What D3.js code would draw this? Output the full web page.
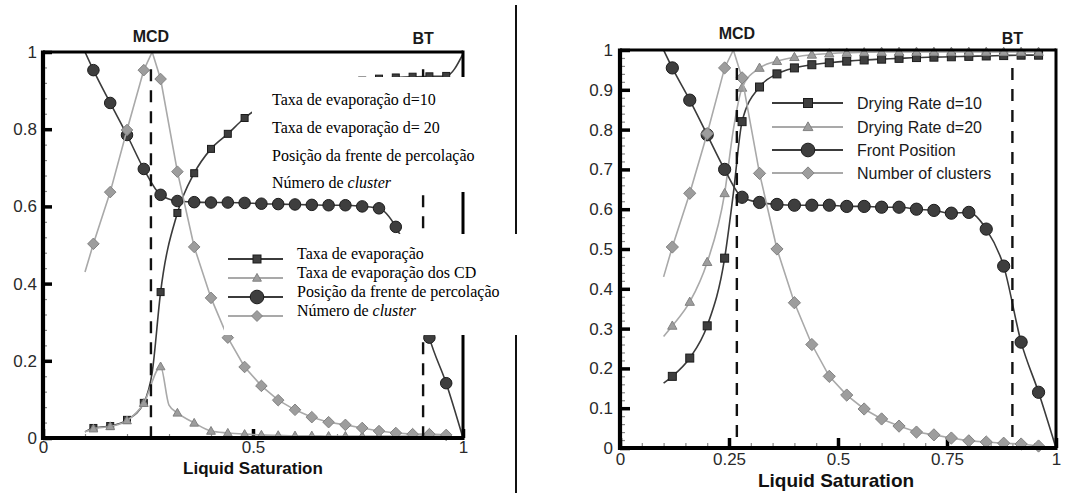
<!DOCTYPE html>
<html>
<head>
<meta charset="utf-8">
<script src="https://cdn.jsdelivr.net/npm/d3@7"></script>
<style>
  body { margin: 0; background: #fff; }
  svg { display: block; }
</style>
</head>
<body>
<script>
// ---------- data: left figure (Portuguese version) ----------
const leftRateX    = [0.10,0.12,0.16,0.20,0.24,0.26,0.28,0.32,0.36,0.40,0.44,0.48,0.52,0.56,0.60,0.64,0.68,0.72,0.76,0.80,0.84,0.88,0.92,0.96,1.00];
const leftRateY    = [0.016,0.026,0.031,0.047,0.091,0.17,0.378,0.583,0.686,0.749,0.788,0.829,0.86,0.88,0.895,0.905,0.913,0.92,0.926,0.931,0.934,0.936,0.937,0.938,0.995];
const leftCdX      = [0.10,0.12,0.16,0.20,0.24,0.28,0.30,0.32,0.36,0.40,0.44,0.48,0.52,0.56,0.60,0.64,0.68,0.72,0.76,0.80,0.84,0.88,0.92,0.96];
const leftCdY      = [0.016,0.024,0.03,0.045,0.09,0.185,0.085,0.065,0.039,0.018,0.013,0.01,0.008,0.007,0.006,0.006,0.005,0.005,0.005,0.005,0.005,0.005,0.005,0.005];
const leftFrontX   = [0.10,0.12,0.16,0.20,0.24,0.28,0.32,0.36,0.40,0.44,0.48,0.52,0.56,0.60,0.64,0.68,0.72,0.76,0.80,0.84,0.88,0.92,0.96,1.00];
const leftFrontY   = [1.0,0.953,0.868,0.785,0.697,0.63,0.614,0.611,0.61,0.61,0.609,0.607,0.606,0.605,0.604,0.603,0.603,0.60,0.595,0.547,0.45,0.26,0.142,0.0];
const leftClusterX = [0.10,0.12,0.16,0.20,0.24,0.26,0.28,0.32,0.36,0.40,0.44,0.48,0.52,0.56,0.60,0.64,0.68,0.72,0.76,0.80,0.84,0.88,0.92,0.96];
const leftClusterY = [0.43,0.503,0.637,0.798,0.953,1.0,0.93,0.69,0.495,0.363,0.26,0.184,0.135,0.098,0.073,0.054,0.041,0.034,0.026,0.018,0.013,0.01,0.01,0.008];

// ---------- data: right figure (English version) ----------
const rightD10X     = [0.10,0.12,0.16,0.20,0.24,0.26,0.28,0.32,0.36,0.40,0.44,0.48,0.52,0.56,0.60,0.64,0.68,0.72,0.76,0.80,0.84,0.88,0.92,0.96];
const rightD10Y     = [0.163,0.18,0.226,0.307,0.477,0.64,0.82,0.907,0.94,0.955,0.963,0.968,0.972,0.975,0.977,0.979,0.981,0.982,0.983,0.984,0.985,0.986,0.987,0.987];
const rightD20X     = [0.10,0.12,0.16,0.20,0.24,0.26,0.28,0.32,0.36,0.40,0.44,0.48,0.52,0.56,0.60,0.64,0.68,0.72,0.76,0.80,0.84,0.88,0.92,0.96];
const rightD20Y     = [0.28,0.307,0.367,0.467,0.64,0.80,0.905,0.955,0.972,0.982,0.988,0.991,0.993,0.994,0.995,0.995,0.995,0.995,0.995,0.995,0.995,0.995,0.995,0.995];
const rightFrontX   = [0.10,0.12,0.16,0.20,0.24,0.28,0.32,0.36,0.40,0.44,0.48,0.52,0.56,0.60,0.64,0.68,0.72,0.76,0.80,0.84,0.88,0.92,0.96,1.00];
const rightFrontY   = [1.0,0.955,0.874,0.787,0.70,0.63,0.617,0.612,0.61,0.61,0.61,0.607,0.607,0.605,0.605,0.60,0.597,0.59,0.592,0.55,0.457,0.266,0.14,0.0];
const rightClusterX = [0.10,0.12,0.16,0.20,0.24,0.26,0.28,0.32,0.36,0.40,0.44,0.48,0.52,0.56,0.60,0.64,0.68,0.72,0.76,0.80,0.84,0.88,0.92,0.96];
const rightClusterY = [0.43,0.505,0.64,0.79,0.955,1.0,0.93,0.69,0.50,0.365,0.26,0.18,0.133,0.098,0.073,0.055,0.04,0.033,0.025,0.018,0.015,0.012,0.01,0.005];

// ---------- ticks, event lines, labels ----------
const leftXTicks  = [0, 0.5, 1];
const leftYTicks  = [0, 0.2, 0.4, 0.6, 0.8, 1];
const rightXTicks = [0, 0.25, 0.5, 0.75, 1];
const rightYTicks = [0, 0.1, 0.2, 0.3, 0.4, 0.5, 0.6, 0.7, 0.8, 0.9, 1];
const leftEvents  = [0.257, 0.905];
const rightEvents = [0.268, 0.90];
const eventLabels = ["MCD", "BT"];
const axisTitle   = "Liquid Saturation";

const legendTopPt    = ["Taxa de evaporação d=10", "Taxa de evaporação d= 20", "Posição da frente de percolação", "Número de "];
const legendBottomPt = ["Taxa de evaporação", "Taxa de evaporação dos CD", "Posição da frente de percolação", "Número de "];
const legendItalic   = "cluster";
const legendEn       = ["Drying Rate d=10", "Drying Rate d=20", "Front Position", "Number of clusters"];

// ---------- styles ----------
const TONE = {
  dark:  { line: "#3b3b3b", fill: "#3e3e3e", stroke: "#1c1c1c" },
  light: { line: "#a9a9a9", fill: "#9d9d9d", stroke: "#828282" }
};
const SANS = "'Liberation Sans', Arial, sans-serif";
const SERIF = "'Liberation Serif', 'Times New Roman', serif";

const svg = d3.select("body").append("svg")
  .attr("width", 1077).attr("height", 495);

// draw one marker glyph
function glyph(g, kind, cx, cy, s, tone) {
  const st = TONE[tone];
  let el;
  if (kind === "circle") {
    el = g.append("circle").attr("cx", cx).attr("cy", cy).attr("r", s * 0.72);
  } else if (kind === "square") {
    el = g.append("rect").attr("x", cx - s * 0.5).attr("y", cy - s * 0.5)
      .attr("width", s).attr("height", s);
  } else if (kind === "triangle") {
    const h = s * 0.95;
    el = g.append("path").attr("d",
      `M${cx},${cy - h * 0.6}L${cx + s * 0.55},${cy + h * 0.42}L${cx - s * 0.55},${cy + h * 0.42}Z`);
  } else {
    const r = s * 0.68;
    el = g.append("path").attr("d",
      `M${cx},${cy - r}L${cx + r},${cy}L${cx},${cy + r}L${cx - r},${cy}Z`);
  }
  el.attr("fill", st.fill).attr("stroke", st.stroke).attr("stroke-width", 1);
}

// markers sit on every other sample of the 0.02 grid
function hasMarker(x, y) {
  const idx = Math.round((x - 0.10) / 0.02);
  return idx % 2 === 1 && x < 0.99 && y < 1 && y > 0;
}

function drawPanel(cfg) {
  const { box } = cfg;
  const x = d3.scaleLinear().domain([0, 1]).range([box.l, box.r]);
  const y = d3.scaleLinear().domain([0, 1]).range([box.b, box.t]);
  const g = svg.append("g");

  const clipId = "clip-" + cfg.id;
  svg.append("clipPath").attr("id", clipId).append("rect")
    .attr("x", box.l).attr("y", box.t).attr("width", box.r - box.l).attr("height", box.b - box.t);

  // minor ticks
  const minorY = g.append("g").attr("transform", `translate(${box.l},0)`)
    .call(d3.axisLeft(y).tickValues(d3.range(0, 1.0001, cfg.yMinor)).tickSize(-cfg.minorLen).tickFormat(""));
  const minorX = g.append("g").attr("transform", `translate(0,${box.b})`)
    .call(d3.axisBottom(x).tickValues(d3.range(0, 1.0001, cfg.xMinor)).tickSize(-cfg.minorLen).tickFormat(""));
  [minorX, minorY].forEach(a => {
    a.select(".domain").remove();
    a.selectAll("line").attr("stroke", "#8a8a8a").attr("stroke-width", 1.2);
  });

  // major ticks and labels
  const fmt = v => String(v);
  const ay = g.append("g").attr("transform", `translate(${box.l},0)`)
    .call(d3.axisLeft(y).tickValues(cfg.yTicks).tickSize(-cfg.majorLen).tickPadding(cfg.yPad).tickFormat(fmt));
  const ax = g.append("g").attr("transform", `translate(0,${box.b})`)
    .call(d3.axisBottom(x).tickValues(cfg.xTicks).tickSize(-cfg.majorLen).tickPadding(cfg.xPad).tickFormat(fmt));
  [ax, ay].forEach(a => {
    a.select(".domain").remove();
    a.selectAll("line").attr("stroke", "#000").attr("stroke-width", 3.5);
    a.selectAll("text").attr("font-family", SANS).attr("font-size", cfg.tickFont)
      .attr("fill", "#2a2a2a");
  });

  // series: lines then markers
  cfg.series.forEach(s => {
    const pts = s.x.map((v, i) => [v, s.y[i]]);
    const line = d3.line().x(d => x(d[0])).y(d => y(d[1]))
      .curve(s.kind === "diamond" ? d3.curveLinear : d3.curveMonotoneX);
    g.append("path").attr("d", line(pts)).attr("clip-path", `url(#${clipId})`)
      .attr("fill", "none").attr("stroke", TONE[s.tone].line).attr("stroke-width", 1.6);
    const mg = g.append("g");
    pts.filter(d => hasMarker(d[0], d[1]))
      .forEach(d => glyph(mg, s.kind, x(d[0]), y(d[1]), cfg.markerSize[s.kind], s.tone));
  });

  // event lines (MCD, BT)
  cfg.events.forEach((v, i) => {
    g.append("line").attr("x1", x(v)).attr("x2", x(v)).attr("y1", y(0.955)).attr("y2", y(0))
      .attr("stroke", "#111").attr("stroke-width", 2.4).attr("stroke-dasharray", "12,9");
    g.append("text").attr("x", x(v)).attr("y", cfg.eventY[i]).attr("text-anchor", "middle")
      .attr("font-family", SANS).attr("font-weight", "bold").attr("font-size", 16)
      .attr("fill", "#1a1a1a").text(eventLabels[i]);
  });

  // frame
  g.append("line").attr("x1", box.l).attr("x2", box.r).attr("y1", box.t).attr("y2", box.t)
    .attr("stroke", "#000").attr("stroke-width", 3);
  g.append("line").attr("x1", box.r).attr("x2", box.r).attr("y1", box.t - 1.5).attr("y2", box.b)
    .attr("stroke", "#000").attr("stroke-width", 3);
  g.append("line").attr("x1", box.l).attr("x2", box.r + 1.5).attr("y1", box.b).attr("y2", box.b)
    .attr("stroke", "#000").attr("stroke-width", 4.2);
  g.append("line").attr("x1", box.l).attr("x2", box.l).attr("y1", box.t - 1.5).attr("y2", box.b + 2)
    .attr("stroke", "#000").attr("stroke-width", 4.2);

  // axis title
  g.append("text").attr("x", (box.l + box.r) / 2 + cfg.titleDx).attr("y", cfg.titleY)
    .attr("text-anchor", "middle").attr("font-family", SANS).attr("font-weight", "bold")
    .attr("font-size", cfg.titleFont).attr("fill", "#111").text(axisTitle);

  return { x, y };
}

// left figure
drawPanel({
  id: "pt",
  box: { l: 43, r: 463, t: 52, b: 438 },
  xTicks: leftXTicks, yTicks: leftYTicks, xMinor: 0.1, yMinor: 0.04,
  majorLen: 9, minorLen: 4, tickFont: 17, yPad: 6, xPad: 3,
  markerSize: { circle: 8, square: 7, triangle: 8, diamond: 8.5 },
  series: [
    { x: leftRateX, y: leftRateY, kind: "square", tone: "dark" },
    { x: leftCdX, y: leftCdY, kind: "triangle", tone: "light" },
    { x: leftFrontX, y: leftFrontY, kind: "circle", tone: "dark" },
    { x: leftClusterX, y: leftClusterY, kind: "diamond", tone: "light" }
  ],
  events: leftEvents, eventY: [42, 44],
  titleFont: 17, titleY: 474, titleDx: 0
});

// right figure
drawPanel({
  id: "en",
  box: { l: 620, r: 1056, t: 50, b: 448 },
  xTicks: rightXTicks, yTicks: rightYTicks, xMinor: 0.05, yMinor: 0.02,
  majorLen: 10, minorLen: 5, tickFont: 17, yPad: 7, xPad: 5,
  markerSize: { circle: 8.5, square: 8, triangle: 8.5, diamond: 9 },
  series: [
    { x: rightD10X, y: rightD10Y, kind: "square", tone: "dark" },
    { x: rightD20X, y: rightD20Y, kind: "triangle", tone: "light" },
    { x: rightFrontX, y: rightFrontY, kind: "circle", tone: "dark" },
    { x: rightClusterX, y: rightClusterY, kind: "diamond", tone: "light" }
  ],
  events: rightEvents, eventY: [39, 44],
  titleFont: 19, titleY: 487, titleDx: -2
});

// divider between the two figures
svg.append("line").attr("x1", 516).attr("x2", 516).attr("y1", 5).attr("y2", 493)
  .attr("stroke", "#111").attr("stroke-width", 2);

// right legend
const kinds = ["square", "triangle", "circle", "diamond"];
const tones = ["dark", "light", "dark", "light"];
const enRows = [103, 127, 150, 173];
const lg = svg.append("g");
legendEn.forEach((t, i) => {
  lg.append("line").attr("x1", 772).attr("x2", 843).attr("y1", enRows[i]).attr("y2", enRows[i])
    .attr("stroke", TONE[tones[i]].line).attr("stroke-width", 2);
  glyph(lg, kinds[i], 808, enRows[i], kinds[i] === "circle" ? 9.5 : 9, tones[i]);
  lg.append("text").attr("x", 857).attr("y", enRows[i]).attr("dy", "0.36em")
    .attr("font-family", SANS).attr("font-size", 16).attr("fill", "#1a1a1a").text(t);
});

// pasted Portuguese legends on white panels over the left figure
const pg = svg.append("g");
pg.append("rect").attr("x", 252).attr("y", 77).attr("width", 258).attr("height", 115).attr("fill", "#fff");
pg.append("rect").attr("x", 224).attr("y", 234).attr("width", 302).attr("height", 101).attr("fill", "#fff");

function ptText(x, yc, label) {
  const t = pg.append("text").attr("x", x).attr("y", yc).attr("dy", "0.33em")
    .attr("font-family", SERIF).attr("font-size", 16).attr("fill", "#000");
  t.append("tspan").text(label);
  if (label.startsWith("Número")) t.append("tspan").attr("font-style", "italic").text(legendItalic);
}
const topRows = [100, 128, 156, 183];
legendTopPt.forEach((t, i) => ptText(272, topRows[i], t));

const botText = [254, 273, 292, 311];
const botLine = [259, 278, 297, 316];
legendBottomPt.forEach((t, i) => {
  pg.append("line").attr("x1", 228).attr("x2", 283).attr("y1", botLine[i]).attr("y2", botLine[i])
    .attr("stroke", TONE[tones[i]].line).attr("stroke-width", 2);
  glyph(pg, kinds[i], 257, botLine[i], kinds[i] === "circle" ? 9.5 : 8, tones[i]);
  ptText(297, botText[i], t);
});
</script>
</body>
</html>
